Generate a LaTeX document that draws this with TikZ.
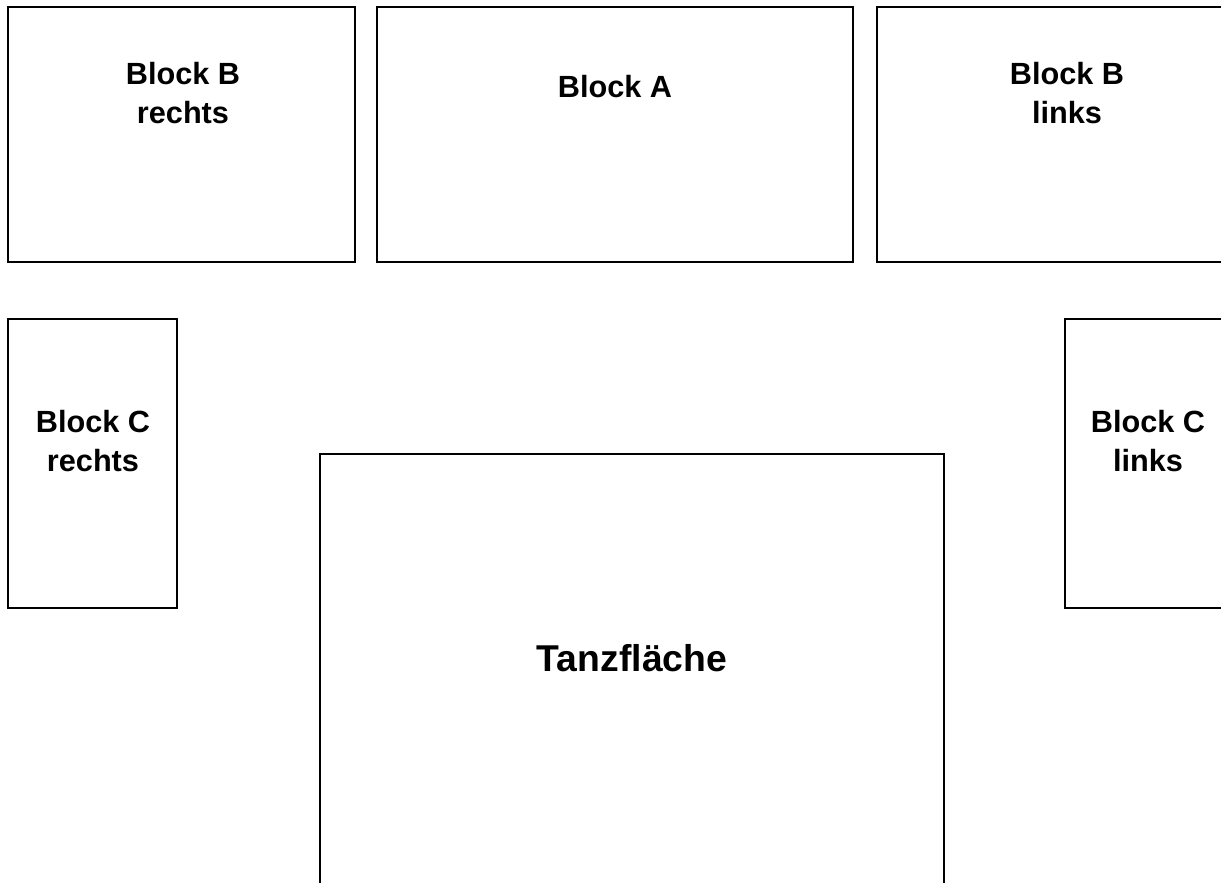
\documentclass[tikz,border=0pt]{standalone}
\usepackage{fontspec}
\setmainfont{Liberation Sans}
\usetikzlibrary{positioning,fit}

\begin{document}
\begin{tikzpicture}[x=0.75pt,y=-0.75pt,
 block/.style={draw=black,line width=1.5pt,inner sep=0pt,outer sep=0pt},
 lbl/.style={align=center,inner sep=0pt,font=\bfseries\fontsize{23}{29}\selectfont},
 biglbl/.style={lbl,font=\bfseries\fontsize{28}{34}\selectfont}]
\useasboundingbox (0,0) rectangle (1221,882);
\clip (0,0) rectangle (1221,882);
% upper row
\node[block,fit={(8,7) (355,262)}] (blockBr) {};
\node[block,fit={(377,7) (853,262)}] (blockA) {};
\node[block,fit={(877,7) (1257,262)}] (blockBl) {};
\node[lbl] (lblBr) at (183,93) {Block B\\rechts};
\node[lbl] (lblA) at (615,87) {Block A};
\node[lbl] (lblBl) at (1067,93) {Block B\\links};
% side blocks
\node[block,fit={(8,319) (177,608)}] (blockCr) {};
\node[block,fit={(1065,319) (1231,608)}] (blockCl) {};
\node[lbl] (lblCr) at (93,441) {Block C\\rechts};
\node[lbl] (lblCl) at (1148,441) {Block C\\links};
% dance floor
\node[block,fit={(320,454) (944,900)}] (dance) {};
\node[biglbl] (lblDance) at (632,658) {Tanzfläche};
\end{tikzpicture}
\end{document}
